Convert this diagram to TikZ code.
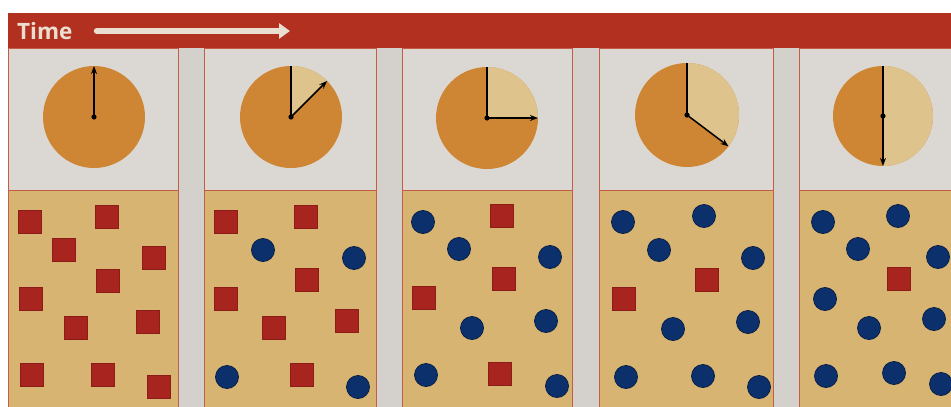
\documentclass[tikz,border=0pt]{standalone}
\usepackage{fontspec}
\setmainfont{Open Sans}
\usetikzlibrary{arrows.meta}
\definecolor{bandred}{RGB}{178,48,32}
\definecolor{linered}{RGB}{196,92,70}
\definecolor{panelgray}{RGB}{219,216,211}
\definecolor{gapgray}{RGB}{212,209,205}
\definecolor{tan}{RGB}{216,180,114}
\definecolor{clockdark}{RGB}{207,134,52}
\definecolor{clocklight}{RGB}{223,195,140}
\definecolor{sqred}{RGB}{168,36,30}
\definecolor{sqedge}{RGB}{140,28,24}
\definecolor{dotblue}{RGB}{12,48,108}
\definecolor{dotedge}{RGB}{8,32,72}
\definecolor{timecol}{RGB}{234,222,208}
\tikzset{
  sq/.style={rectangle, minimum size=23pt, inner sep=0pt, fill=sqred, draw=sqedge, line width=0.8pt},
  ci/.style={circle, minimum size=23pt, inner sep=0pt, fill=dotblue, draw=dotedge, line width=0.8pt},
  toppanel/.style={fill=panelgray, draw=linered, line width=1pt},
  botpanel/.style={fill=tan, draw=linered, line width=1pt},
  hand/.style={line width=1.5pt, black},
  handarrow/.style={hand, -{Stealth[length=8pt,width=6pt]}},
  timearrow/.style={line width=6.5pt, timecol, line cap=round, -{Triangle[length=11pt,width=15pt]}}
}
\begin{document}
\begin{tikzpicture}[x=1pt,y=-1pt]
\useasboundingbox (0,0) rectangle (951,407);
\clip (0,0) rectangle (951,407);
\fill[white] (0,0) rectangle (951,407);
% gaps background
\fill[gapgray] (8,48) rectangle (960,420);
% red band
\fill[bandred] (8,13) rectangle (960,48);
\node[anchor=base west, font=\bfseries\fontsize{22.5}{22.5}\selectfont, text=timecol, inner sep=0pt] (time) at (17,39) {Time};
\coordinate (as) at (97,31);
\coordinate (ae) at (290,31);
\draw[timearrow] (as) -- (ae);
% panels
\foreach \l/\r in {8/178, 204/376, 402/572, 599/773, 799/975}{
  \draw[toppanel] (\l,48) rectangle (\r,190);
  \draw[botpanel] (\l,190) rectangle (\r,420);
}
% clock 1
\begin{scope}[shift={(94,117)}, yscale=-1]
  \fill[clockdark] (0,0) circle[radius=51];
  \coordinate (c1) at (0,0);
  \coordinate (t1) at (90:51);
  \draw[handarrow] (c1) -- (t1);
  \fill (c1) circle[radius=2.6];
\end{scope}
% clock 2
\begin{scope}[shift={(291,117)}, yscale=-1]
  \fill[clockdark] (0,0) circle[radius=51];
  \fill[clocklight] (0,0) -- (90:51) arc[start angle=90, end angle=45, radius=51] -- cycle;
  \coordinate (c2) at (0,0);
  \coordinate (u2) at (90:51);
  \coordinate (t2) at (45:51);
  \draw[hand] (c2) -- (u2);
  \draw[handarrow] (c2) -- (t2);
  \fill (c2) circle[radius=2.6];
\end{scope}
% clock 3
\begin{scope}[shift={(487,118)}, yscale=-1]
  \fill[clockdark] (0,0) circle[radius=51];
  \fill[clocklight] (0,0) -- (90:51) arc[start angle=90, end angle=0, radius=51] -- cycle;
  \coordinate (c3) at (0,0);
  \coordinate (u3) at (90:51);
  \coordinate (t3) at (0:51);
  \draw[hand] (c3) -- (u3);
  \draw[handarrow] (c3) -- (t3);
  \fill (c3) circle[radius=2.6];
\end{scope}
% clock 4
\begin{scope}[shift={(687,115)}, yscale=-1]
  \fill[clockdark] (0,0) circle[radius=52];
  \fill[clocklight] (0,0) -- (90:52) arc[start angle=90, end angle=-37, radius=52] -- cycle;
  \coordinate (c4) at (0,0);
  \coordinate (u4) at (90:52);
  \coordinate (t4) at (-37:52);
  \draw[hand] (c4) -- (u4);
  \draw[handarrow] (c4) -- (t4);
  \fill (c4) circle[radius=2.6];
\end{scope}
% clock 5
\begin{scope}[shift={(883,116)}, yscale=-1]
  \fill[clockdark] (0,0) circle[radius=50];
  \fill[clocklight] (0,0) -- (90:50) arc[start angle=90, end angle=-90, radius=50] -- cycle;
  \coordinate (c5) at (0,0);
  \coordinate (u5) at (90:50);
  \coordinate (t5) at (-90:50);
  \draw[handarrow] (u5) -- (t5);
  \fill (c5) circle[radius=2.6];
\end{scope}
% particles
\foreach \t/\x/\y [count=\i] in {sq/30/222, sq/107/217, sq/64/250, sq/154/258, sq/108/281, sq/31/299, sq/76/328, sq/148/322, sq/32/375, sq/103/375, sq/159/387}
  \node[\t] (a\i) at (\x,\y) {};
\foreach \t/\x/\y [count=\i] in {sq/226/222, sq/306/217, ci/263/250, ci/354/258, sq/307/280, sq/226/299, sq/274/328, sq/347/321, ci/227/377, sq/302/375, ci/358/387}
  \node[\t] (b\i) at (\x,\y) {};
\foreach \t/\x/\y [count=\i] in {ci/423/222, sq/502/216, ci/459/249, ci/550/257, sq/504/279, sq/424/298, ci/472/328, ci/546/321, ci/426/375, sq/500/374, ci/557/386}
  \node[\t] (c\i) at (\x,\y) {};
\foreach \t/\x/\y [count=\i] in {ci/623/222, ci/704/216, ci/659/250, ci/753/258, sq/707/280, sq/624/299, ci/673/329, ci/748/322, ci/626/377, ci/703/376, ci/759/387}
  \node[\t] (d\i) at (\x,\y) {};
\foreach \t/\x/\y [count=\i] in {ci/823/222, ci/898/216, ci/858/249, ci/938/257, sq/899/279, ci/825/299, ci/869/328, ci/934/319, ci/826/376, ci/894/373, ci/941/384}
  \node[\t] (e\i) at (\x,\y) {};
\end{tikzpicture}
\end{document}
